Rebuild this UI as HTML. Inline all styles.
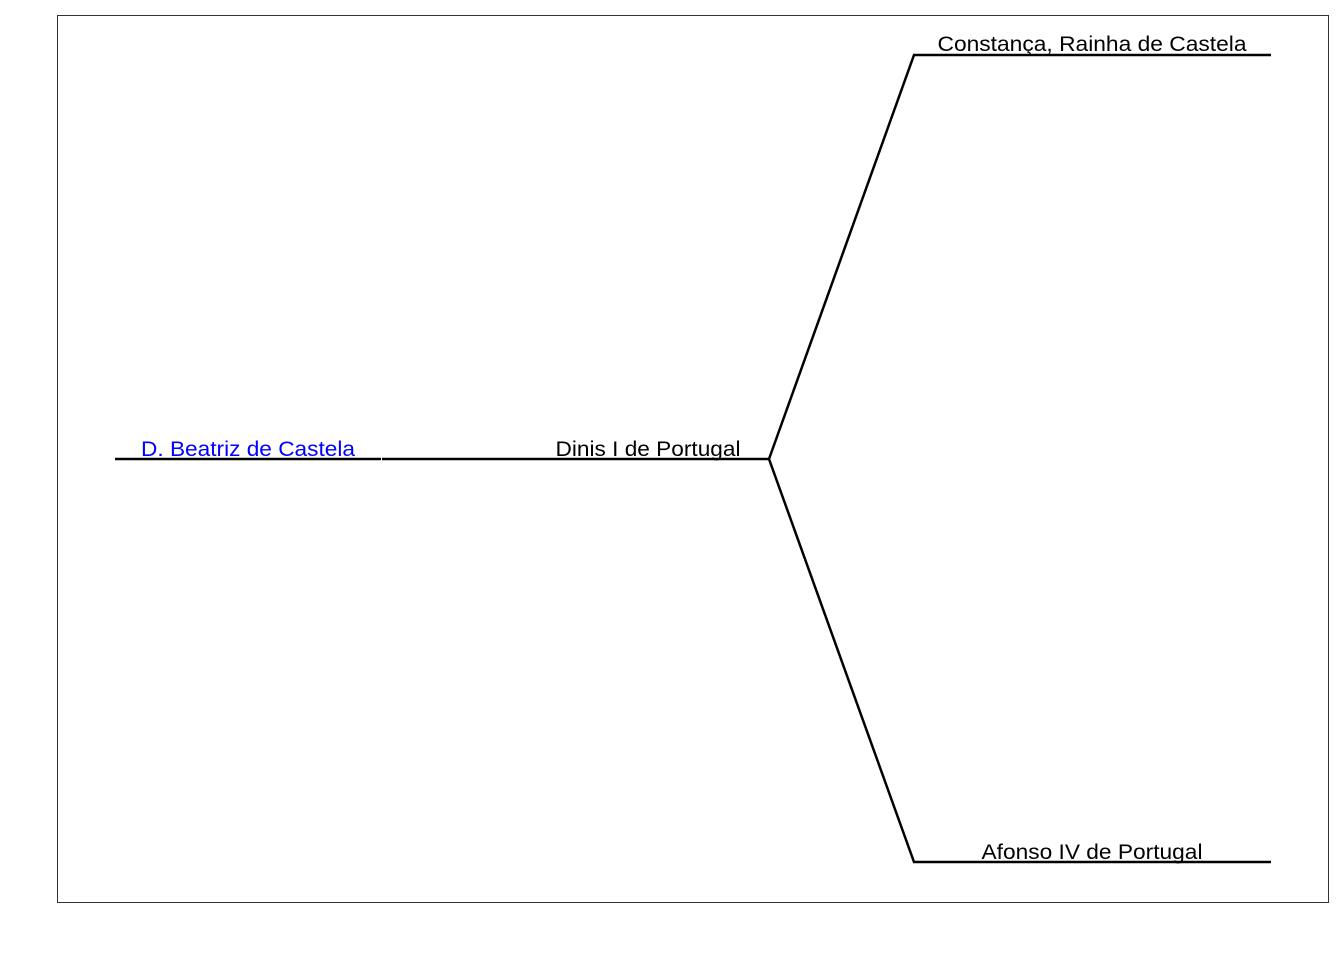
<!DOCTYPE html>
<html><head><meta charset="utf-8"><style>
html,body{margin:0;padding:0;background:#fff;}
svg{display:block;}
text{font-family:"Liberation Sans",Arial,sans-serif;font-size:21px;text-anchor:middle;}
</style></head><body>
<svg width="1344" height="960" viewBox="0 0 1344 960" xmlns="http://www.w3.org/2000/svg">
<rect x="57.5" y="15.5" width="1271" height="887" fill="none" stroke="#333" stroke-width="1"/>
<g stroke="#000" stroke-width="2.5" fill="none">
<line x1="115" y1="459" x2="381" y2="459"/>
<line x1="382" y1="459" x2="769" y2="459"/>
<polyline points="769,459 914,55 1271,55"/>
<polyline points="769,459 914,862 1271,862"/>
</g>
<text x="248" y="456" fill="#0000ff" textLength="214" lengthAdjust="spacingAndGlyphs">D. Beatriz de Castela</text>
<text x="648" y="456" fill="#000" textLength="185" lengthAdjust="spacingAndGlyphs">Dinis I de Portugal</text>
<text x="1092" y="51" fill="#000" textLength="309" lengthAdjust="spacingAndGlyphs">Constança, Rainha de Castela</text>
<text x="1092" y="859" fill="#000" textLength="221" lengthAdjust="spacingAndGlyphs">Afonso IV de Portugal</text>
</svg>
</body></html>
